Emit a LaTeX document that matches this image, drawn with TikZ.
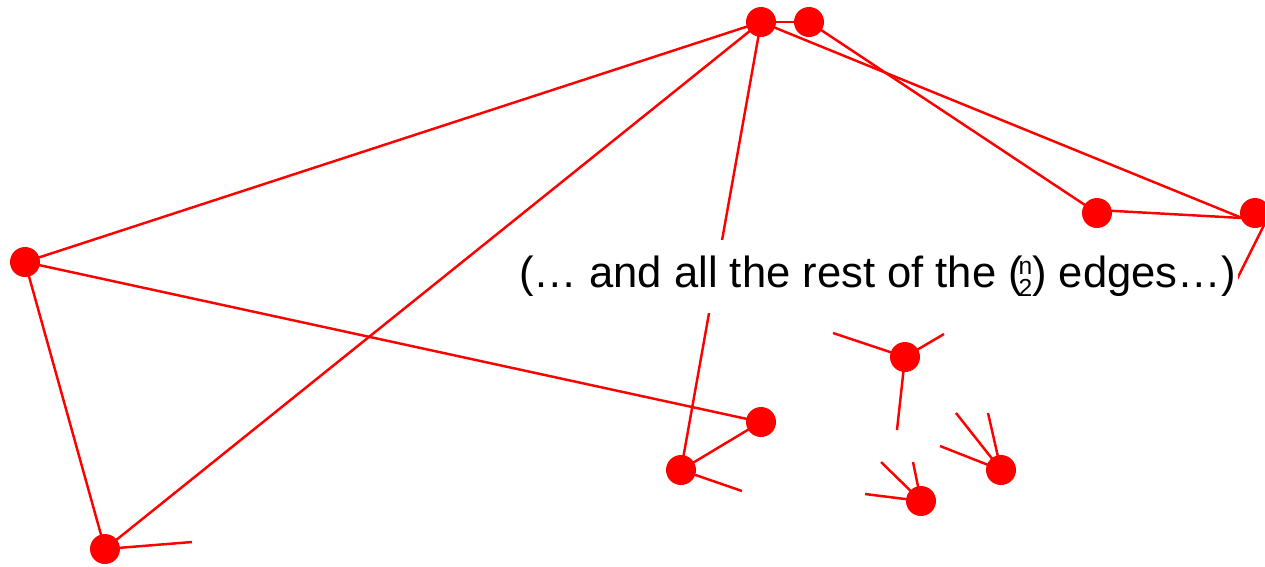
\documentclass[tikz,border=0pt]{standalone}
\usepackage{fontspec}
\setmainfont{Liberation Sans}
\begin{document}
\begin{tikzpicture}[x=0.02cm,y=-0.02cm,
  vert/.style={circle,fill=red,draw=none,minimum size=0.6cm,inner sep=0pt},
  edge/.style={red,line width=1.4pt},
  lbl/.style={fill=white,inner xsep=1pt,inner ysep=0pt,minimum height=1.46cm,font=\fontsize{24.8}{28}\selectfont}]
\useasboundingbox (0,0) rectangle (1265,566);
\coordinate (A) at (761,22);
\coordinate (B) at (809,22);
\coordinate (C) at (25,262);
\coordinate (D) at (1097,213);
\coordinate (Dl) at (1097,210);
\coordinate (E) at (1255,213);
\coordinate (El) at (1242,218);
\coordinate (Er) at (1270,213);
\coordinate (F) at (905,357);
\coordinate (G) at (761,422);
\coordinate (H) at (681,470);
\coordinate (I) at (1001,470);
\coordinate (J) at (921,501);
\coordinate (K) at (105,549);
% stub ends
\coordinate (e1) at (1233,287);
\coordinate (k1) at (192,542);
\coordinate (h1) at (742,491);
\coordinate (f1) at (833,333);
\coordinate (f2) at (944,334);
\coordinate (f3) at (897,430);
\coordinate (i1) at (940,446);
\coordinate (i2) at (956,413);
\coordinate (i3) at (988,413);
\coordinate (j1) at (865,494);
\coordinate (j2) at (881,462);
\coordinate (j3) at (913,462);
% edges
\draw[edge] (A) -- (C);
\draw[edge] (A) -- (K);
\draw[edge] (A) -- (H);
\draw[edge] (A) -- (B);
\draw[edge] (A) -- (El);
\draw[edge] (B) -- (D);
\draw[edge] (Dl) -- (El);
\draw[edge] (C) -- (G);
\draw[edge] (C) -- (K);
\draw[edge] (H) -- (G);
\draw[edge] (Er) -- (e1);
\draw[edge] (K) -- (k1);
\draw[edge] (H) -- (h1);
\draw[edge] (F) -- (f1);
\draw[edge] (F) -- (f2);
\draw[edge] (F) -- (f3);
\draw[edge] (I) -- (i1);
\draw[edge] (I) -- (i2);
\draw[edge] (I) -- (i3);
\draw[edge] (J) -- (j1);
\draw[edge] (J) -- (j2);
\draw[edge] (J) -- (j3);
% label
\node[lbl] (txt) at (877.5,276) {\raisebox{-0.1em}{(… and all the rest of the (\kern-0.1em\raisebox{-0.22em}{\fontsize{14}{14.5}\selectfont\shortstack{n\\2}}) edges…)}};
% vertices
\foreach \v in {A,B,C,D,E,F,G,H,I,J,K} \node[vert] (n\v) at (\v) {};
\end{tikzpicture}
\end{document}
